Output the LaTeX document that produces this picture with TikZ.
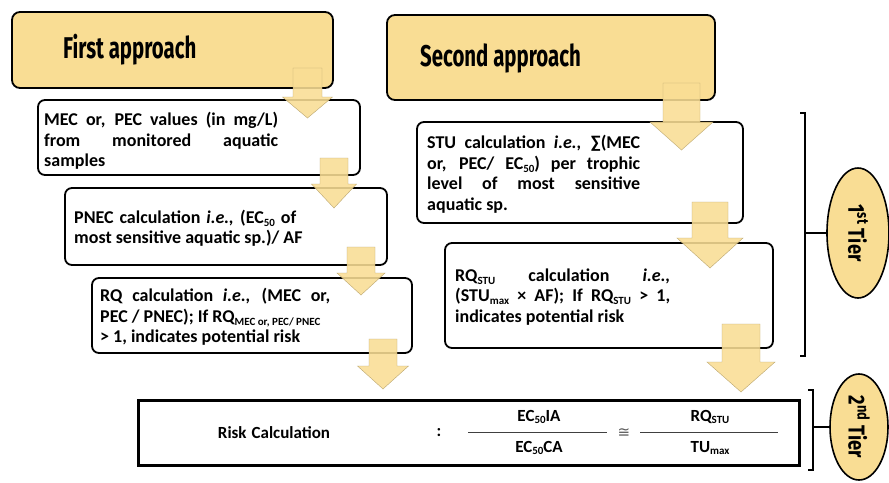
\documentclass[tikz,border=0pt]{standalone}
\usepackage{fontspec}
\setmainfont{Carlito}
\newfontfamily\titlefont[FakeStretch=0.68]{Fira Sans}
\newfontfamily\tierfont[FakeStretch=0.80]{Fira Sans}
\newfontfamily\symfont{DejaVu Sans}
\usetikzlibrary{shapes.geometric}
\definecolor{yel}{RGB}{249,221,148}
\newcommand{\sbs}[1]{\raisebox{-0.35ex}{\fontsize{11}{11}\selectfont #1}}
\newcommand{\jline}[2]{\makebox[#1][s]{#2}}
\newcommand{\barrow}[6]{%
  \filldraw[arr] (#1-#3,#2) -- (#1+#3,#2) -- (#1+#3,#5) -- (#1+#4,#5) -- (#1,#6) -- (#1-#4,#5) -- (#1-#3,#5) -- cycle;}
\begin{document}
\begin{tikzpicture}[x=1pt,y=-1pt,
  box/.style={draw=black, line width=1.8pt, rounded corners=7pt, fill=white, inner sep=0pt},
  ttl/.style={draw=black, line width=1.8pt, rounded corners=8pt, fill=yel, inner sep=0pt},
  tx/.style={font=\fontsize{18}{20.5}\selectfont\bfseries, align=left, inner sep=0pt, anchor=west},
  ttx/.style={font=\titlefont\bfseries\fontsize{30}{32}\selectfont, inner sep=0pt, anchor=west},
  tiertx/.style={font=\tierfont\bfseries\fontsize{23}{25}\selectfont, inner sep=0pt, rotate=-90},
  arr/.style={fill=yel, draw=yel!75!black, line width=0.4pt, fill opacity=0.88},
  tier/.style={ellipse, draw=black, line width=1.6pt, fill=yel, inner sep=0pt},
  brk/.style={draw=black, line width=1.5pt},
  rk/.style={font=\fontsize{17}{19}\selectfont\bfseries, inner sep=0pt}
]
\useasboundingbox (0,0) rectangle (889,482);

% title boxes
\node[ttl, minimum width=321pt, minimum height=76pt] (ttlA) at (172.5,50) {};
\node[ttl, minimum width=328pt, minimum height=85pt] (ttlB) at (551,57.5) {};
\node[ttx] (ttlAt) at (63,50) {First approach};
\node[ttx] (ttlBt) at (420,58) {Second approach};

% first approach boxes
\node[box, minimum width=322pt, minimum height=75pt] (mec) at (199,137.5) {};
\node[box, minimum width=322pt, minimum height=77pt] (pnec) at (226,226.5) {};
\node[box, minimum width=320pt, minimum height=75pt] (rq) at (252,315.5) {};
% second approach boxes
\node[box, minimum width=326pt, minimum height=101pt] (stu) at (580,172.5) {};
\node[box, minimum width=328pt, minimum height=105pt] (rqstu) at (609,295.5) {};

\node[tx] (mect) at (44,141) {\jline{234pt}{MEC or, PEC values (in mg/L)}\\
\jline{234pt}{from monitored aquatic}\\
samples};
\node[tx] (pnect) at (74,228) {\jline{222pt}{PNEC calculation \textit{i.e.,} (EC\sbs{50} of}\\
most sensitive aquatic sp.)/ AF};
\node[tx] (rqt) at (100,317) {\jline{230pt}{RQ calculation \textit{i.e.,} (MEC or,}\\
PEC / PNEC); If RQ\sbs{MEC or, PEC/ PNEC}\\
> 1, indicates potential risk};
\node[tx] (stut) at (427,174) {\jline{213pt}{STU calculation \textit{i.e.,} ∑(MEC}\\
\jline{213pt}{or, PEC/ EC\sbs{50}) per trophic}\\
\jline{213pt}{level of most sensitive}\\
aquatic sp.};
\node[tx] (rqstut) at (455,297) {\jline{215pt}{RQ\sbs{STU} calculation \textit{i.e.,}}\\
\jline{215pt}{(STU\sbs{max} × AF); If RQ\sbs{STU} > 1,}\\
indicates potential risk};

% risk box
\node[draw=black, line width=3pt, minimum width=661pt, minimum height=65pt, inner sep=0pt] (risk) at (468.5,432.5) {};
\node[rk] (rkt) at (274,433) {Risk\hspace{5pt}Calculation};
\node[rk] (colon) at (439,433) {:};
\node[rk] (n1) at (539,417) {EC\sbs{50}IA};
\node[rk] (d1) at (539,448) {EC\sbs{50}CA};
\node[inner sep=0pt, text=black!65, font=\symfont\fontsize{15}{17}\selectfont] (cong) at (624,433) {≅};
\node[rk] (n2) at (710,417) {RQ\sbs{STU}};
\node[rk] (d2) at (710,448) {TU\sbs{max}};
\coordinate (f1a) at (468,432); \coordinate (f1b) at (607,432);
\coordinate (f2a) at (640,432); \coordinate (f2b) at (778,432);
\draw[black!75, line width=1pt] (f1a) -- (f1b);
\draw[black!75, line width=1pt] (f2a) -- (f2b);

% block arrows
\barrow{307.5}{68}{14.5}{25}{97}{118}
\barrow{334}{158}{14}{22.5}{184}{208}
\barrow{361}{247}{14}{24}{273}{295}
\barrow{383}{339}{14}{25.5}{366}{389}
\barrow{681.5}{83}{18.5}{31.5}{122}{150}
\barrow{710}{202}{18}{33}{238}{268}
\barrow{741}{324}{19}{34}{362}{392}

% tiers
\node[tier, minimum width=62pt, minimum height=130pt] (tier1) at (858,233) {};
\node[tiertx] at (tier1.center) {1\textsuperscript{st} Tier};
\node[tier, minimum width=58pt, minimum height=106pt] (tier2) at (859,427) {};
\node[tiertx] at (tier2.center) {2\textsuperscript{nd} Tier};
\coordinate (b1t) at (800,113); \coordinate (b1b) at (800,356); \coordinate (b1m) at (805,233);
\draw[brk] (b1t) -- ++(5,0) -- (805,356) -- (b1b);
\draw[brk] (b1m) -- (tier1.west);
\coordinate (b2t) at (808,390); \coordinate (b2b) at (808,470); \coordinate (b2m) at (813,427);
\draw[brk] (b2t) -- ++(5,0) -- (813,470) -- (b2b);
\draw[brk] (b2m) -- (tier2.west);
\end{tikzpicture}
\end{document}
